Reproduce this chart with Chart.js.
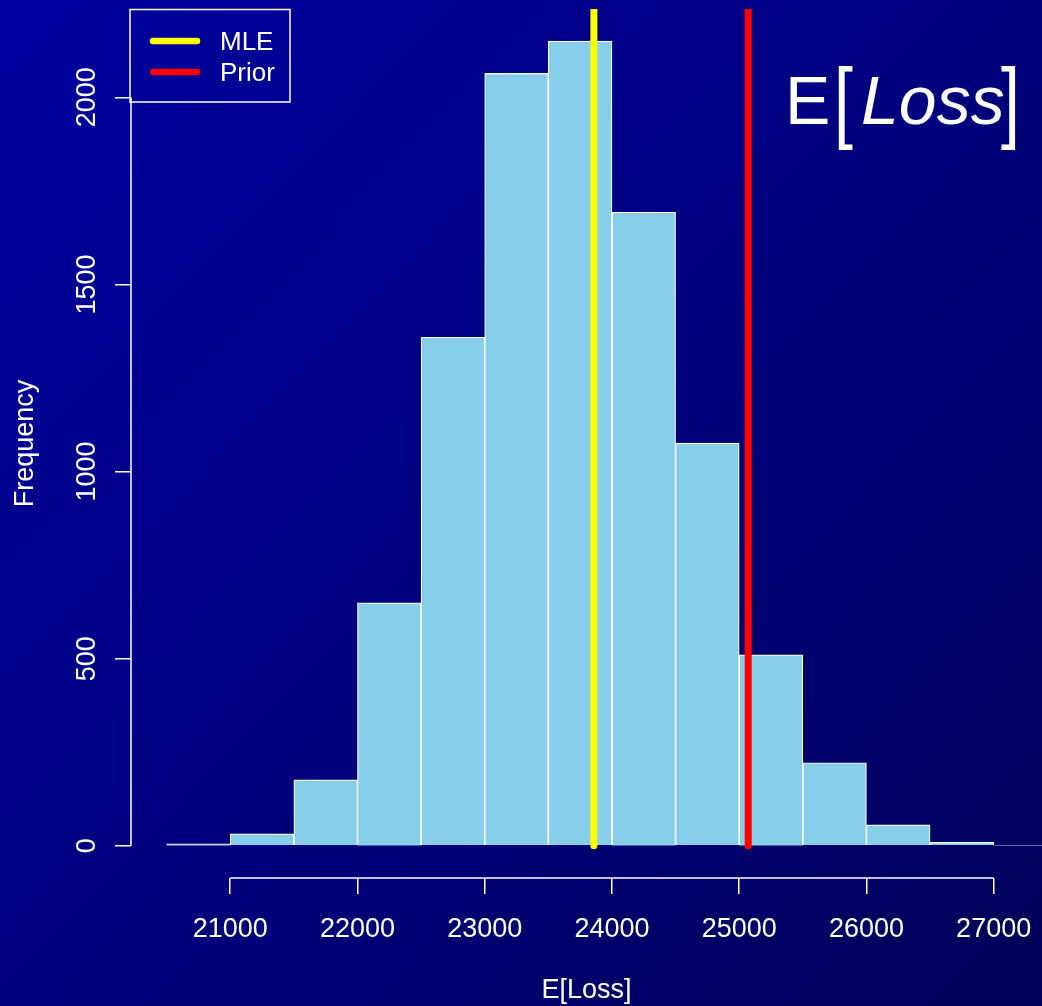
<!DOCTYPE html>
<html>
<head>
<meta charset="utf-8">
<script src="https://cdn.jsdelivr.net/npm/chart.js@4.4.1/dist/chart.umd.min.js"></script>
<style>
html,body{margin:0;padding:0;overflow:hidden;background:linear-gradient(135deg,#0000a0,#000058);}
#wrap{width:1042px;height:1006px;position:relative;}
</style>
</head>
<body>
<div id="wrap"><canvas id="c"></canvas></div>
<script>
// ---- data ----
const binStarts = [20500,21000,21500,22000,22500,23000,23500,24000,24500,25000,25500,26000,26500,27000];
const binWidth = 500;
const counts = [5,32,176,649,1359,2064,2150,1693,1076,510,222,56,9,2];
const xTickValues = [21000,22000,23000,24000,25000,26000,27000];
const xTickLabels = ['21000','22000','23000','24000','25000','26000','27000'];
const yTickValues = [0,500,1000,1500,2000];
const yTickLabels = ['0','500','1000','1500','2000'];
const refLabels = ['MLE','Prior'];
const refValues = [23858,25071];
const refColors = ['#FFFF00','#FF0000'];
const xTitle = 'E[Loss]';
const yTitle = 'Frequency';
const xMin = 20220, xMax = 27380, yMin = -86, yMax = 2236;

const FONT = "'Liberation Sans', Arial, Helvetica, sans-serif";
Chart.defaults.font.family = FONT;
Chart.defaults.color = '#ffffff';

const datasets = refValues.map((v,i)=>({
  type:'line', label:refLabels[i],
  data:[{x:v,y:0},{x:v,y:yMax}],
  borderColor:refColors[i], backgroundColor:refColors[i],
  borderWidth:7, borderCapStyle:'round', pointRadius:0, tension:0,
  order:0, clip:0
}));
datasets.push({
  type:'bar', label:'counts',
  data: binStarts.map((s,i)=>({x:s+binWidth/2, y:counts[i]})),
  backgroundColor:'#87CEEB', borderColor:'#ffffff', borderWidth:1.2,
  barPercentage:1, categoryPercentage:1, order:1
});

const bgPlugin = {
  id:'bg',
  beforeDraw(chart){
    const {ctx,width,height} = chart;
    const g = ctx.createLinearGradient(0,0,width,height);
    g.addColorStop(0,'#0000a0');
    g.addColorStop(0.5,'#00007e');
    g.addColorStop(1,'#000058');
    ctx.save(); ctx.fillStyle=g; ctx.fillRect(0,0,width,height); ctx.restore();
  }
};

const decoPlugin = {
  id:'deco',
  afterDraw(chart){
    const {ctx, chartArea} = chart;
    const xs = chart.scales.x, ys = chart.scales.y;
    ctx.save();
    // axis lines (R style, spanning tick range)
    ctx.strokeStyle='#fff'; ctx.lineWidth=1.5;
    ctx.beginPath();
    ctx.moveTo(xs.getPixelForValue(xTickValues[0]), chartArea.bottom);
    ctx.lineTo(xs.getPixelForValue(xTickValues[xTickValues.length-1]), chartArea.bottom);
    ctx.moveTo(chartArea.left, ys.getPixelForValue(yTickValues[0]));
    ctx.lineTo(chartArea.left, ys.getPixelForValue(yTickValues[yTickValues.length-1]));
    ctx.stroke();
    // y tick labels, rotated
    ctx.fillStyle='#fff';
    ctx.font = `27px ${FONT}`;
    ctx.textAlign='center'; ctx.textBaseline='middle';
    yTickValues.forEach((v,i)=>{
      const py = ys.getPixelForValue(v);
      ctx.save(); ctx.translate(88, py); ctx.rotate(-Math.PI/2);
      ctx.fillText(yTickLabels[i],0,0); ctx.restore();
    });
    // legend box
    const lx = chartArea.left, ly = chartArea.top;
    ctx.lineWidth=1.5; ctx.strokeStyle='#fff';
    ctx.strokeRect(lx-1, ly+0.5, 160, 92.5);
    ctx.font = `26px ${FONT}`;
    ctx.textAlign='left'; ctx.textBaseline='middle';
    chart.data.datasets.filter(d=>d.type==='line').forEach((d,i)=>{
      const yy = ly + 32 + i*31;
      ctx.strokeStyle = d.borderColor; ctx.lineWidth=6.5; ctx.lineCap='round';
      ctx.beginPath(); ctx.moveTo(lx+22, yy); ctx.lineTo(lx+66, yy); ctx.stroke();
      ctx.fillStyle='#fff';
      ctx.fillText(d.label, lx+89, yy+2);
    });
    // title E[Loss]
    ctx.fillStyle='#fff';
    ctx.textBaseline='alphabetic'; ctx.textAlign='left';
    ctx.font = `68px ${FONT}`;
    ctx.fillText('E', 785, 124);
    const m = ctx.measureText('[');
    const asc = m.actualBoundingBoxAscent, desc = m.actualBoundingBoxDescent;
    const s = (149-65)/(asc+desc);
    ctx.save(); ctx.translate(0, 65 + asc*s); ctx.scale(1, s);
    ctx.fillText('[', 838 + m.actualBoundingBoxLeft, 0);
    ctx.fillText(']', 1020 - m.actualBoundingBoxRight, 0);
    ctx.restore();
    ctx.font = `italic 68px ${FONT}`;
    ctx.fillText('Loss', 861, 124);
    ctx.restore();
  }
};

new Chart(document.getElementById('c'), {
  type:'bar',
  data:{datasets},
  options:{
    responsive:true, maintainAspectRatio:false, animation:false, devicePixelRatio:1,
    layout:{padding:{left:0,right:0,top:9,bottom:0}},
    plugins:{legend:{display:false}, tooltip:{enabled:false}},
    scales:{
      x:{
        type:'linear', min:xMin, max:xMax, offset:false,
        afterBuildTicks:s=>{ s.ticks = xTickValues.map(v=>({value:v})); },
        afterFit:s=>{ s.height = 1006-878; s.paddingLeft = 0; s.paddingRight = 0; },
        grid:{display:true, drawOnChartArea:false, drawTicks:true, tickLength:16, color:'#fff', lineWidth:1.5, offset:false},
        border:{display:false},
        ticks:{color:'#fff', font:{size:27}, padding:19, maxRotation:0, minRotation:0, autoSkip:false,
               callback:(v,i)=>xTickLabels[i]},
        title:{display:true, text:xTitle, color:'#fff', font:{size:27}, padding:{top:0,bottom:-1}}
      },
      y:{
        type:'linear', min:yMin, max:yMax,
        afterBuildTicks:s=>{ s.ticks = yTickValues.map(v=>({value:v})); },
        afterFit:s=>{ s.width = 131; s.paddingTop = 0; s.paddingBottom = 0; },
        grid:{display:true, drawOnChartArea:false, drawTicks:true, tickLength:16, color:'#fff', lineWidth:1.5},
        border:{display:false},
        ticks:{display:false, callback:(v,i)=>yTickLabels[i]},
        title:{display:true, text:yTitle, color:'#fff', font:{size:27}, padding:{top:9,bottom:0}}
      }
    }
  },
  plugins:[bgPlugin, decoPlugin]
});
</script>
</body>
</html>
